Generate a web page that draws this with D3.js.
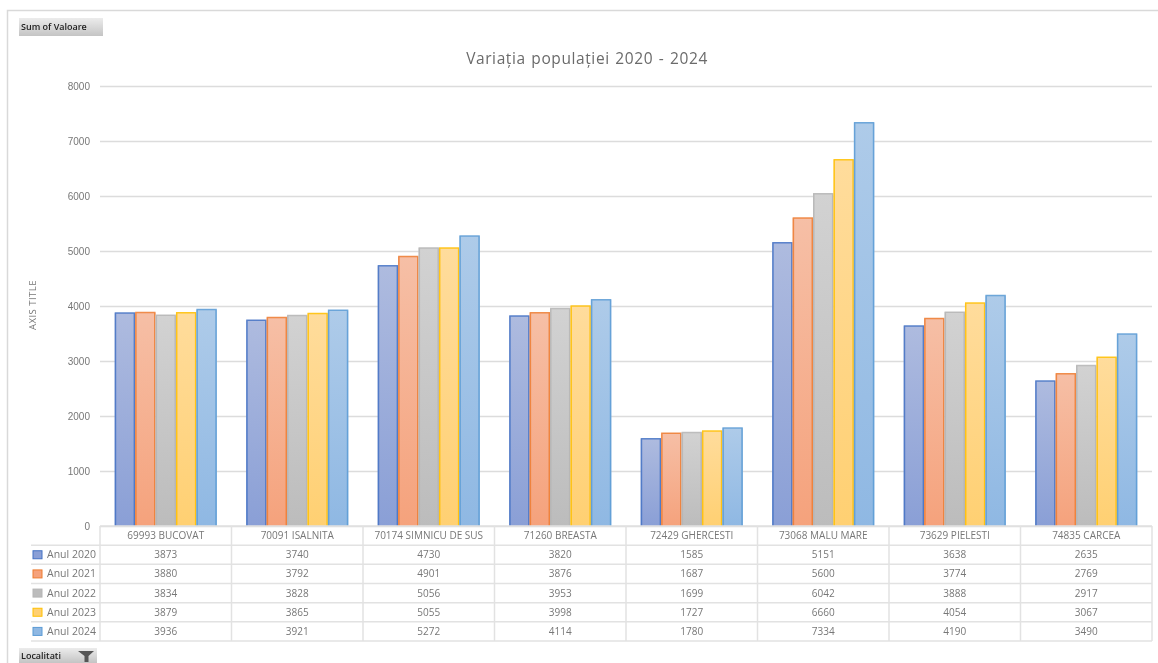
<!DOCTYPE html>
<html>
<head>
<meta charset="utf-8">
<script src="https://d3js.org/d3.v7.min.js"></script>
<style>
	html, body { margin: 0; padding: 0; background: #fff; }
	svg { display: block; filter: blur(0.7px); font-family: "Open Sans", sans-serif; }
	.tick line { stroke: #dcdcdc; stroke-width: 1.5px; }
	.domain { display: none; }
	.tick text { fill: #777; font-size: 10px; }
	.cell { font-size: 10px; fill: #777; text-anchor: middle; }
	.legend { font-size: 10.5px; fill: #777; }
	.grid { stroke: #e2e2e2; stroke-width: 1.5px; }
</style>
</head>
<body>
<div id="chart"></div>
<script>
var categories = ["69993 BUCOVAT", "70091 ISALNITA", "70174 SIMNICU DE SUS", "71260 BREASTA",
	"72429 GHERCESTI", "73068 MALU MARE", "73629 PIELESTI", "74835 CARCEA"];
var years = ["Anul 2020", "Anul 2021", "Anul 2022", "Anul 2023", "Anul 2024"];
var an2020 = [3873, 3740, 4730, 3820, 1585, 5151, 3638, 2635];
var an2021 = [3880, 3792, 4901, 3876, 1687, 5600, 3774, 2769];
var an2022 = [3834, 3828, 5056, 3953, 1699, 6042, 3888, 2917];
var an2023 = [3879, 3865, 5055, 3998, 1727, 6660, 4054, 3067];
var an2024 = [3936, 3921, 5272, 4114, 1780, 7334, 4190, 3490];
var series = [an2020, an2021, an2022, an2023, an2024];
var lineColors = ["#4472c4", "#ed7d31", "#b5b5b5", "#ffc000", "#5b9bd5"];
var topColors = ["#aebbdf", "#f6bfa6", "#d2d2d2", "#ffdc9c", "#aecbe9"];
var bottomColors = ["#8a9fd6", "#f5a27c", "#bcbcbc", "#ffd072", "#8fb8e3"];
var yTicks = [0, 1000, 2000, 3000, 4000, 5000, 6000, 7000, 8000];

var svg = d3.select("#chart").append("svg").attr("width", 1158).attr("height", 663);

// outer frame of the chart
svg.append("path").attr("d", "M1158,10.5H7.5V663").attr("fill", "none").attr("stroke", "#d9d9d9").attr("stroke-width", 1.5);

var defs = svg.append("defs");
years.forEach(function (y, i) {
	var g = defs.append("linearGradient").attr("id", "bar" + i).attr("x1", 0).attr("x2", 0).attr("y1", 0).attr("y2", 1);
	g.append("stop").attr("offset", "0%").attr("stop-color", topColors[i]);
	g.append("stop").attr("offset", "100%").attr("stop-color", bottomColors[i]);
});

var y = d3.scaleLinear().domain([0, 8000]).range([526, 86]);
var x = d3.scaleBand().domain(categories).range([100, 1152]);
var xInner = d3.scaleBand().domain(d3.range(5)).range([0, x.bandwidth()]).paddingInner(0).paddingOuter(0.72);
var rows = d3.scaleBand().domain(d3.range(6)).range([526, 641]);

svg.append("g")
	.attr("transform", "translate(100,0)")
	.call(d3.axisLeft(y).tickValues(yTicks).tickFormat(d3.format("d")).tickSize(-1052).tickPadding(10))
	.selectAll(".tick line").attr("x1", 0);

// axis title
svg.append("text")
	.attr("transform", "translate(36,305) rotate(-90)")
	.attr("text-anchor", "middle")
	.attr("fill", "#777")
	.attr("font-size", 9.5)
	.attr("letter-spacing", 0.5)
	.text("AXIS TITLE");

// bars
series.forEach(function (values, s) {
	var g = svg.append("g");
	g.selectAll("rect").data(values).enter().append("rect")
		.attr("x", function (d, i) { return x(categories[i]) + xInner(s); })
		.attr("y", function (d) { return y(d); })
		.attr("width", xInner.bandwidth())
		.attr("height", function (d) { return y(0) - y(d); })
		.attr("fill", "url(#bar" + s + ")");
	// outline without the base, like the excel bars
	g.selectAll("path").data(values).enter().append("path")
		.attr("d", function (d, i) {
			var x0 = x(categories[i]) + xInner(s) + 0.75, x1 = x0 + xInner.bandwidth() - 1.5;
			return "M" + x0 + "," + y(0) + "V" + y(d) + "H" + x1 + "V" + y(0);
		})
		.attr("fill", "none")
		.attr("stroke", lineColors[s])
		.attr("stroke-opacity", 0.85)
		.attr("stroke-width", 1.5);
});

// data table
var table = svg.append("g");
rows.domain().concat([6]).forEach(function (r) {
	var yy = r < 6 ? rows(r) : 641;
	table.append("line").attr("class", "grid")
		.attr("x1", r === 0 ? 100 : 31).attr("x2", 1152).attr("y1", yy).attr("y2", yy);
});
categories.concat(["end"]).forEach(function (c) {
	var xx = c === "end" ? 1152 : x(c);
	table.append("line").attr("class", "grid").attr("x1", xx).attr("x2", xx).attr("y1", 526).attr("y2", 641);
});
table.selectAll("text.head").data(categories).enter().append("text")
	.attr("class", "cell")
	.attr("x", function (d) { return x(d) + x.bandwidth() / 2; })
	.attr("y", rows(0) + rows.bandwidth() / 2 + 3.5)
	.text(function (d) { return d; });
series.forEach(function (values, s) {
	var ry = rows(s + 1) + rows.bandwidth() / 2;
	table.append("g").selectAll("text").data(values).enter().append("text")
		.attr("class", "cell")
		.attr("x", function (d, i) { return x(categories[i]) + x.bandwidth() / 2; })
		.attr("y", ry + 3.5)
		.text(function (d) { return d; });
	table.append("rect").attr("x", 33).attr("y", ry - 4).attr("width", 9).attr("height", 8)
		.attr("fill", bottomColors[s]).attr("stroke", lineColors[s]);
	table.append("text").attr("class", "legend").attr("x", 47).attr("y", ry + 3.5).text(years[s]);
});

// title
svg.append("text")
	.attr("x", 587).attr("y", 64)
	.attr("text-anchor", "middle")
	.attr("fill", "#6b6b6b")
	.attr("font-size", 15.5)
	.attr("letter-spacing", 0.6)
	.attr("word-spacing", 1)
	.text("Variația populației 2020 - 2024");

// pivot buttons
function fieldButton(bx, by, w, h, label) {
	var id = "btn" + bx;
	var g = defs.append("linearGradient").attr("id", id).attr("x1", 0).attr("x2", 0).attr("y1", 0).attr("y2", 1);
	g.append("stop").attr("offset", "0%").attr("stop-color", "#ececec");
	g.append("stop").attr("offset", "100%").attr("stop-color", "#c4c4c4");
	svg.append("rect").attr("x", bx).attr("y", by).attr("width", w).attr("height", h).attr("fill", "url(#" + id + ")");
	svg.append("text").attr("x", bx + 2).attr("y", by + h / 2 + 3).attr("font-size", 9).attr("font-weight", 600).attr("fill", "#222").text(label);
}
fieldButton(19, 18, 84, 18, "Sum of Valoare");
fieldButton(19, 648, 78, 15, "Localitati");
svg.append("path").attr("d", "M78,651H94L88.5,656V662H84.5V656Z").attr("fill", "#555");
</script>
</body>
</html>
